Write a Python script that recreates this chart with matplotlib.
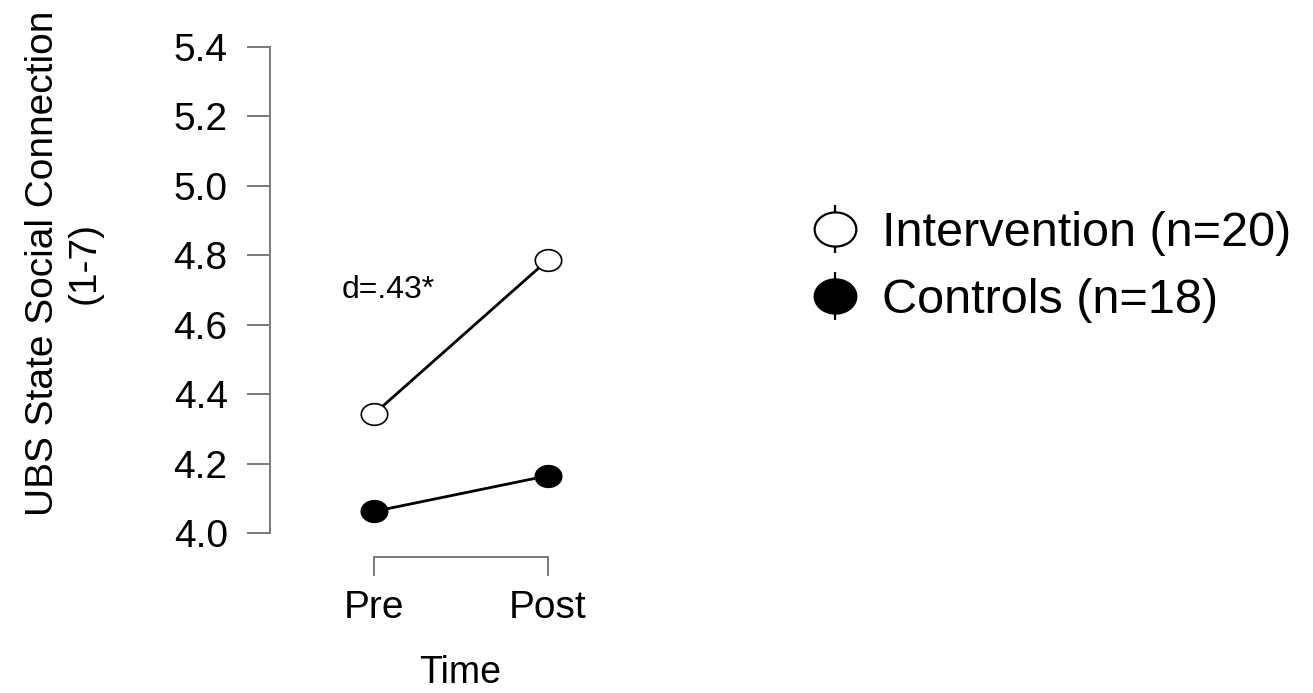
import matplotlib
matplotlib.use("Agg")
import matplotlib.pyplot as plt
import numpy as np
from matplotlib.lines import Line2D
from matplotlib.path import Path
from matplotlib.legend_handler import HandlerTuple

plt.rcParams['font.family'] = ['Liberation Sans', 'DejaVu Sans']

time_labels = ["Pre", "Post"]
intervention = [4.343, 4.787]
controls = [4.062, 4.165]
series_labels = ["Intervention (n=20)", "Controls (n=18)"]
y_ticks = [4.0, 4.2, 4.4, 4.6, 4.8, 5.0, 5.2, 5.4]

# slightly wide ellipse marker (reference is horizontally stretched)
_t = np.linspace(0, 2 * np.pi, 64)
ellipse = Path(np.column_stack([1.22 * np.cos(_t), np.sin(_t)]), closed=True)

W, H = 1313, 693
fig = plt.figure(figsize=(W / 100, H / 100), dpi=100)

ax_left, ax_right, ax_top, ax_bottom = 270, 650, 40, 557
ax = fig.add_axes([ax_left / W, (H - ax_bottom) / H, (ax_right - ax_left) / W, (ax_bottom - ax_top) / H])

ppu_y = (533 - 47) / 1.4
ax.set_ylim(4.0 - (ax_bottom - 533) / ppu_y, 5.4 + (47 - ax_top) / ppu_y)
ppu_x = 548 - 374
ax.set_xlim(0 - (374 - ax_left) / ppu_x, 1 + (ax_right - 548) / ppu_x)

x = list(range(len(time_labels)))
ax.plot(x, intervention, color='black', lw=2.0, marker=ellipse, ms=19,
        mfc='white', mec='black', mew=1.2, zorder=3)
ax.plot(x, controls, color='black', lw=2.0, marker=ellipse, ms=19,
        mfc='black', mec='black', mew=1.2, zorder=3)

ax.text(-0.184, 4.677, "d=.43*", fontsize=23, ha='left', va='baseline')

spine_col = '#7a7a7a'
for s in ['top', 'right']:
    ax.spines[s].set_visible(False)
ax.spines['left'].set_bounds(4.0, 5.4)
ax.spines['bottom'].set_bounds(0, 1)
for s in ['left', 'bottom']:
    ax.spines[s].set_color(spine_col)
    ax.spines[s].set_linewidth(1.4)

ax.set_yticks(y_ticks)
ax.set_yticklabels([f"{v:.1f}" for v in y_ticks])
ax.set_xticks(x)
ax.set_xticklabels(time_labels)
ax.tick_params(axis='y', length=16.5, width=1.4, color=spine_col, labelsize=28, pad=14, labelcolor='black')
ax.tick_params(axis='x', length=14, width=1.4, color=spine_col, labelsize=28, pad=10, labelcolor='black')
ax.set_facecolor('none')

fig.text(64 / W, (H - 263) / H, "UBS State Social Connection\n(1-7)", rotation=90,
         ha='center', va='center', fontsize=28, linespacing=1.2, multialignment='center')
fig.text(460 / W, (H - 673) / H, "Time", ha='center', va='center', fontsize=27)

# legend
def handle(fill):
    return (Line2D([], [], ls='none', marker='|', ms=35, mew=1.6, color='black'),
            Line2D([], [], ls='none', marker=ellipse, ms=30, mfc=fill, mec='black', mew=1.6))

fs = 35
fig.legend([handle('white'), handle('black')], series_labels,
           handler_map={tuple: HandlerTuple(ndivide=1)},
           loc='center left', bbox_to_anchor=(811 / W, (H - 267) / H), frameon=False,
           fontsize=fs, handlelength=1.0, handletextpad=0.47, labelspacing=0.45,
           borderpad=0, borderaxespad=0)

fig.savefig("out.png", dpi=100)
